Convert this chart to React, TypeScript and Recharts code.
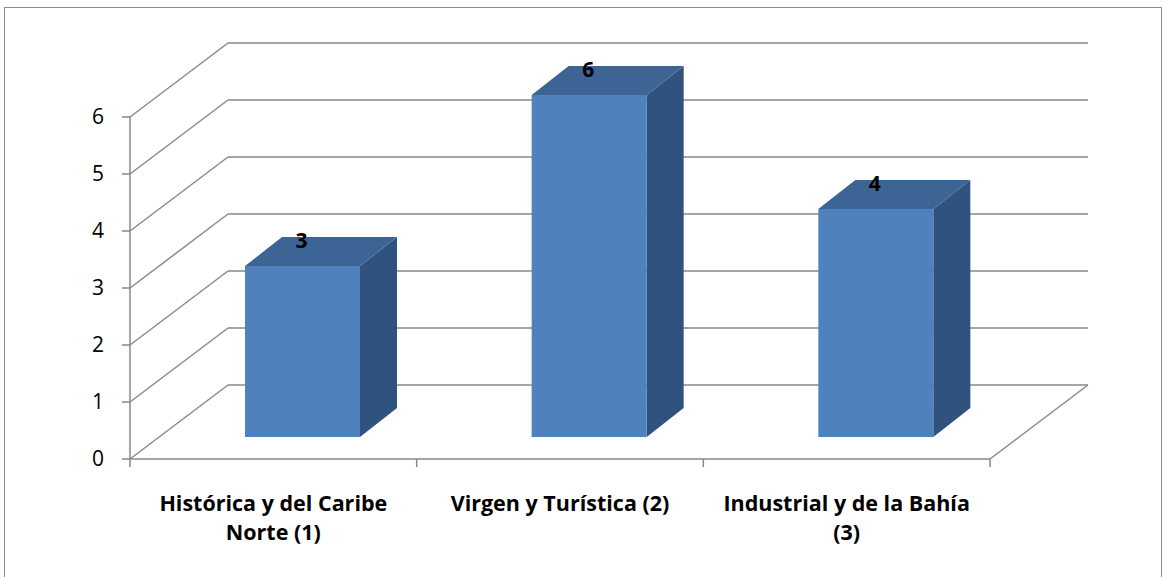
import { BarChart, Bar, XAxis, YAxis, CartesianGrid, LabelList } from 'recharts'

const categories = ['Histórica y del Caribe Norte (1)', 'Virgen y Turística (2)', 'Industrial y de la Bahía (3)']
const values = [3, 6, 4]
const yTicks = [0, 1, 2, 3, 4, 5, 6]

const data = categories.map((name, i) => ({ name, value: values[i] }))

// oblique projection used for the fake 3D look
const WALL_DX = 98
const WALL_DY = -74
const FACE_DX = 29
const FACE_DY = -22
const BAR_DX = 37
const BAR_DY = -29

const GRID = '#898989'
const FONT = '"Open Sans", Lato, sans-serif'

function wrapWords(text: string, maxChars: number): string[] {
  const lines: string[] = []
  let cur = ''
  for (const w of text.split(' ')) {
    const next = cur ? cur + ' ' + w : w
    if (next.length > maxChars && cur) {
      lines.push(cur)
      cur = w
    } else {
      cur = next
    }
  }
  if (cur) lines.push(cur)
  return lines
}

function GridLine(props: any) {
  const { x1, y1, x2, y, height, index } = props
  const isFloor = Math.abs(y1 - (y + height)) < 0.5
  const bx1 = x1 + WALL_DX
  const bx2 = x2 + WALL_DX
  const by = y1 + WALL_DY
  const n = categories.length
  return (
    <g key={`grid-${index}`} stroke={GRID} strokeWidth={1.5} fill="none">
      <line x1={x1} y1={y1} x2={bx1} y2={by} />
      <line x1={bx1} y1={by} x2={bx2} y2={by} />
      {isFloor && <line x1={bx2} y1={by} x2={x2} y2={y1} />}
      {isFloor &&
        Array.from({ length: n + 1 }, (_, i) => {
          const tx = x1 + (i * (x2 - x1)) / n
          return <line key={i} x1={tx} y1={y1} x2={tx} y2={y1 + 8} />
        })}
    </g>
  )
}

function Box3D(props: any) {
  const { x, y, width, height } = props
  if (!height) return null
  const fx = x + FACE_DX
  const fy = y + FACE_DY
  const b = fy + height
  const top = `${fx},${fy} ${fx + BAR_DX},${fy + BAR_DY} ${fx + width + BAR_DX},${fy + BAR_DY} ${fx + width},${fy}`
  const side = `${fx + width},${fy} ${fx + width + BAR_DX},${fy + BAR_DY} ${fx + width + BAR_DX},${b + BAR_DY} ${fx + width},${b}`
  return (
    <g>
      <polygon points={side} fill="#30527f" />
      <polygon points={top} fill="#3c6595" />
      <rect x={fx} y={fy} width={width} height={height} fill="#4f81bd" />
    </g>
  )
}

function TopLabel(props: any) {
  const { x, y, width, value } = props
  return (
    <text
      x={x + width / 2 + FACE_DX - 1}
      y={y + FACE_DY - 26}
      textAnchor="middle"
      dominantBaseline="central"
      fontFamily={FONT}
      fontWeight="bold"
      fontSize={21}
      fill="#000"
    >
      {value}
    </text>
  )
}

function CategoryTick(props: any) {
  const { x, y, payload } = props
  const lines = wrapWords(String(payload.value), 24)
  return (
    <g>
      {lines.map((ln, i) => (
        <text
          key={i}
          x={x}
          y={y + 43 + i * 29}
          textAnchor="middle"
          dominantBaseline="central"
          fontFamily={FONT}
          fontWeight="bold"
          fontSize={21.5}
          fill="#000"
        >
          {ln}
        </text>
      ))}
    </g>
  )
}

export default function App() {
  return (
    <div style={{ position: 'absolute', left: 0, top: 0, width: 1167, height: 577, overflow: 'hidden', background: '#fff' }}>
      <div
        style={{
          position: 'absolute',
          left: 4,
          top: 7,
          width: 1158,
          height: 590,
          border: '1.5px solid #8c8c8c',
          boxSizing: 'border-box',
        }}
      />
      <BarChart
        width={1167}
        height={577}
        data={data}
        margin={{ top: 117, right: 177, bottom: 58, left: 70 }}
        barCategoryGap="30%"
        style={{ position: 'absolute', left: 0, top: 0 }}
      >
        <CartesianGrid vertical={false} horizontal={(p: any) => <GridLine {...p} />} />
        <XAxis
          dataKey="name"
          height={60}
          tickLine={false}
          tickSize={0}
          tickMargin={0}
          axisLine={{ stroke: GRID, strokeWidth: 1.5 }}
          tick={<CategoryTick />}
          interval={0}
        />
        <YAxis
          width={60}
          domain={[0, 6]}
          ticks={yTicks}
          interval={0}
          tickSize={8}
          tickMargin={18}
          axisLine={{ stroke: GRID, strokeWidth: 1.5 }}
          tickLine={{ stroke: GRID, strokeWidth: 1.5 }}
          tick={{ fill: '#000', fontSize: 21, fontFamily: FONT }}
        />
        <Bar dataKey="value" shape={<Box3D />} isAnimationActive={false}>
          <LabelList dataKey="value" content={<TopLabel />} />
        </Bar>
      </BarChart>
    </div>
  )
}
